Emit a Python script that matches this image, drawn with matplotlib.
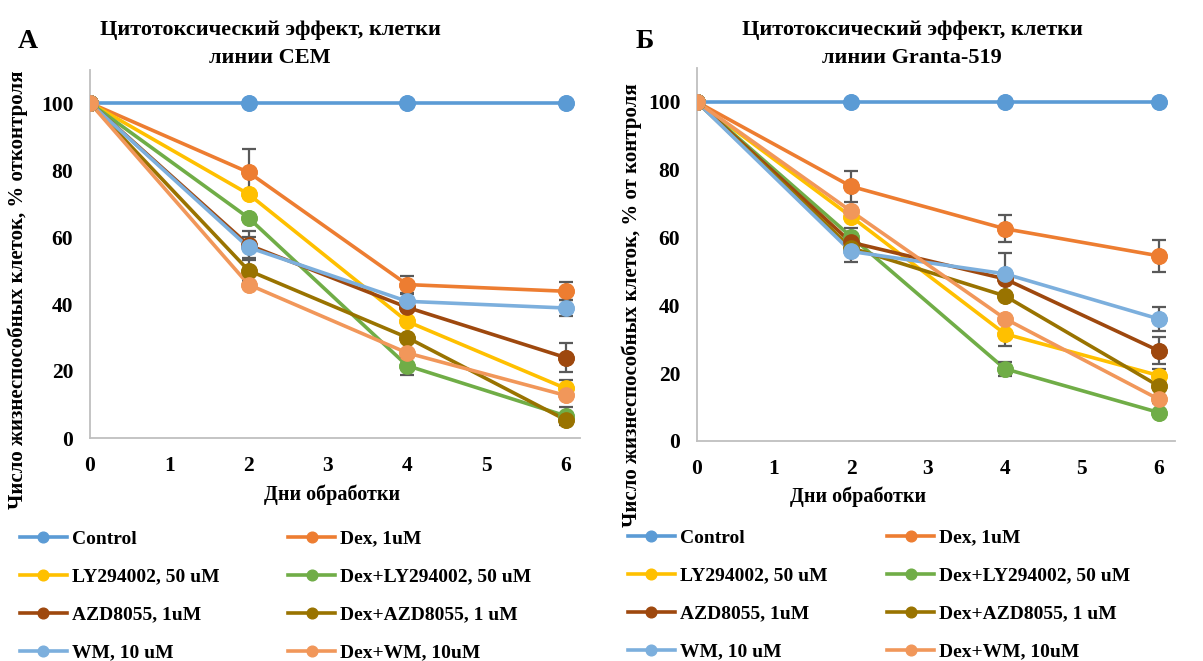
import matplotlib
matplotlib.use("Agg")
import matplotlib.pyplot as plt

plt.rcParams['font.family'] = ['Liberation Serif', 'DejaVu Serif']
plt.rcParams['font.weight'] = 'bold'

days = [0, 2, 4, 6]
labels = ["Control", "Dex, 1uM", "LY294002, 50 uM", "Dex+LY294002, 50 uM",
          "AZD8055, 1uM", "Dex+AZD8055, 1 uM", "WM, 10 uM", "Dex+WM, 10uM"]
colors = ["#5B9BD5", "#ED7D31", "#FFC000", "#70AD47",
          "#9E480E", "#997300", "#7CAFDD", "#F1975A"]

# Panel A (CEM)
cem_control = [100, 100, 100, 100]
cem_dex = [100, 79.3, 45.8, 43.8]
cem_ly = [100, 72.8, 34.8, 14.8]
cem_dexly = [100, 65.7, 21.6, 6.6]
cem_azd = [100, 57.6, 39.0, 24.0]
cem_dexazd = [100, 50.0, 30.0, 5.4]
cem_wm = [100, 56.9, 40.8, 38.8]
cem_dexwm = [100, 45.8, 25.4, 12.7]
cem_err_control = [0, 0, 0, 0]
cem_err_dex = [0, 7.0, 2.6, 2.7]
cem_err_ly = [0, 0, 0, 2.5]
cem_err_dexly = [0, 0, 2.7, 2.6]
cem_err_azd = [0, 4.3, 0, 4.3]
cem_err_dexazd = [0, 3.0, 0, 0]
cem_err_wm = [0, 3.2, 2.2, 2.4]
cem_err_dexwm = [0, 0, 0, 0]

# Panel B (Granta-519)
gr_control = [100, 100, 100, 100]
gr_dex = [100, 75.1, 62.6, 54.6]
gr_ly = [100, 66.2, 31.6, 19.3]
gr_dexly = [100, 60.3, 21.3, 8.4]
gr_azd = [100, 58.6, 47.8, 26.6]
gr_dexazd = [100, 57.0, 42.8, 16.2]
gr_wm = [100, 55.9, 49.3, 36.0]
gr_dexwm = [100, 67.8, 36.1, 12.3]
gr_err_control = [0, 0, 0, 0]
gr_err_dex = [0, 4.5, 4.0, 4.8]
gr_err_ly = [0, 0, 3.5, 0]
gr_err_dexly = [0, 2.6, 2.1, 0]
gr_err_azd = [0, 0, 0, 4.0]
gr_err_dexazd = [0, 0, 0, 5.0]
gr_err_wm = [0, 3.0, 6.0, 3.6]
gr_err_dexwm = [0, 0, 0, 0]

x_ticks = [0, 1, 2, 3, 4, 5, 6]
y_ticks = [0, 20, 40, 60, 80, 100]

cem_series = [cem_control, cem_dex, cem_ly, cem_dexly, cem_azd, cem_dexazd, cem_wm, cem_dexwm]
cem_errs = [cem_err_control, cem_err_dex, cem_err_ly, cem_err_dexly, cem_err_azd,
            cem_err_dexazd, cem_err_wm, cem_err_dexwm]
gr_series = [gr_control, gr_dex, gr_ly, gr_dexly, gr_azd, gr_dexazd, gr_wm, gr_dexwm]
gr_errs = [gr_err_control, gr_err_dex, gr_err_ly, gr_err_dexly, gr_err_azd,
           gr_err_dexazd, gr_err_wm, gr_err_dexwm]

W, H = 1203, 661
fig = plt.figure(figsize=(W / 100, H / 100), dpi=100)


def px(x0, y0, x1, y1):
    return [x0 / W, 1 - y1 / H, (x1 - x0) / W, (y1 - y0) / H]


axA = fig.add_axes(px(90, 69.5, 580, 438))
axB = fig.add_axes(px(697, 68, 1175, 441))


def draw(ax, series, errs, xmax):
    handles = []
    for i, (ys, es) in enumerate(zip(series, errs)):
        ax.errorbar(days, ys, yerr=es, fmt='none', ecolor='#595959', elinewidth=1.6,
                    capsize=5, capthick=1.6, zorder=2.5 + i * 0.01)
        h, = ax.plot(days, ys, '-o', color=colors[i], lw=2.6, ms=11,
                     zorder=2 + i * 0.01, label=labels[i])
        ax.plot(days, ys, 'o', color=colors[i], ms=11, zorder=3 + i * 0.01)
        handles.append(h)
    ax.set_xlim(0, xmax)
    ax.set_ylim(0, 110)
    ax.set_xticks(x_ticks)
    ax.set_yticks(y_ticks)
    ax.tick_params(length=0, labelsize=15.5)
    ax.tick_params(axis='y', pad=12)
    ax.tick_params(axis='x', pad=13)
    for lab in ax.get_xticklabels() + ax.get_yticklabels():
        lab.set_fontweight('bold')
    for s in ['top', 'right']:
        ax.spines[s].set_visible(False)
    for s in ['left', 'bottom']:
        ax.spines[s].set_color('#BFBFBF')
        ax.spines[s].set_linewidth(1.3)
    return handles


hA = draw(axA, cem_series, cem_errs, 6.18)
hB = draw(axB, gr_series, gr_errs, 6.21)
order = [0, 2, 4, 6, 1, 3, 5, 7]

leg_kw = dict(ncol=2, frameon=False, prop={'size': 14, 'weight': 'bold'},
              handlelength=2.4, handletextpad=0.25, labelspacing=1.05,
              markerscale=0.7, borderpad=0, borderaxespad=0, loc='upper left')
fig.legend([hA[i] for i in order], [labels[i] for i in order],
           bbox_to_anchor=(20 / W, 1 - 530 / H), columnspacing=3.55, **leg_kw)
fig.legend([hB[i] for i in order], [labels[i] for i in order],
           bbox_to_anchor=(628 / W, 1 - 529 / H), columnspacing=3.1, **leg_kw)

fig.text(270 / W, 1 - 44 / H, "Цитотоксический эффект, клетки\nлинии CEM",
         ha='center', va='center', fontsize=16, fontweight='bold', linespacing=1.5)
fig.text(912 / W, 1 - 44 / H, "Цитотоксический эффект, клетки\nлинии Granta-519",
         ha='center', va='center', fontsize=16, fontweight='bold', linespacing=1.5)
fig.text(28 / W, 1 - 41 / H, "А", ha='center', va='center', fontsize=20, fontweight='bold')
fig.text(645 / W, 1 - 42 / H, "Б", ha='center', va='center', fontsize=20, fontweight='bold')

fig.text(18 / W, 1 - 290 / H, "Число жизнеспособных клеток, % отконтроля",
         rotation=90, ha='center', va='center', fontsize=15, fontweight='bold')
fig.text(632 / W, 1 - 305 / H, "Число жизнеспособных клеток, % от контроля",
         rotation=90, ha='center', va='center', fontsize=15, fontweight='bold')
fig.text(332 / W, 1 - 495 / H, "Дни обработки", ha='center', va='center',
         fontsize=14.5, fontweight='bold')
fig.text(858 / W, 1 - 497 / H, "Дни обработки", ha='center', va='center',
         fontsize=14.5, fontweight='bold')

fig.savefig("out.png", dpi=100)
